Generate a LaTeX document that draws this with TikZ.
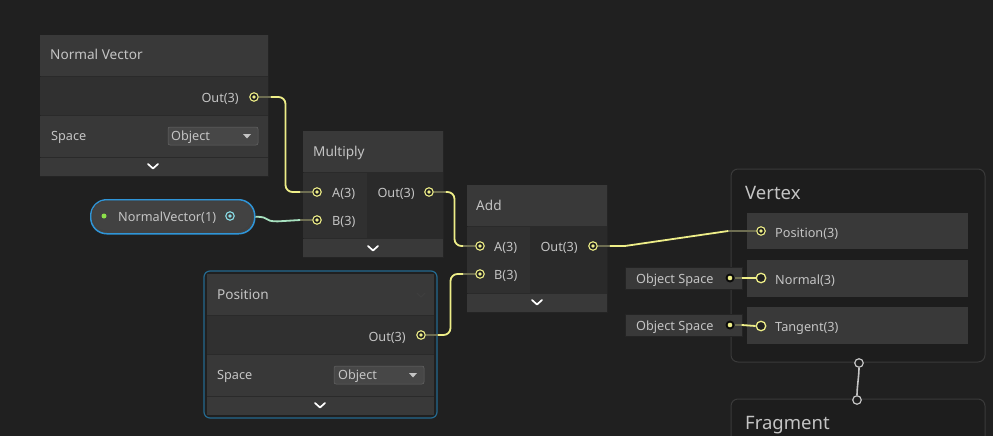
\documentclass[tikz,border=0pt]{standalone}
\usepackage{fontspec}
\setmainfont{Noto Sans}
\usetikzlibrary{calc}
\definecolor{cbg}{HTML}{202020}
\definecolor{ctitle}{HTML}{393939}
\definecolor{cin}{HTML}{303030}
\definecolor{cout}{HTML}{2A2A2A}
\definecolor{crow}{HTML}{383838}
\definecolor{cdrop}{HTML}{474747}
\definecolor{ctext}{HTML}{C4C4C4}
\definecolor{cyel}{HTML}{EEEE88}
\definecolor{cdim}{HTML}{6E6E52}
\definecolor{cblue}{HTML}{2F95D8}
\definecolor{cblue2}{HTML}{24698F}
\definecolor{cgreen}{HTML}{A8E2C0}
\definecolor{ccyan}{HTML}{8ADDE6}
\definecolor{cframe}{HTML}{3A3A3A}
\definecolor{cgrey}{HTML}{C4C4C4}
\definecolor{csep}{HTML}{242424}
\definecolor{cpill}{HTML}{424242}
\definecolor{cgdot}{HTML}{8CE04A}
\tikzset{
  blk/.style={anchor=north west, inner sep=0pt, outer sep=0pt, fill=cout, draw=csep, line width=0.8pt},
  lbl/.style={text=ctext, font=\fontsize{12.7}{14}\selectfont, inner sep=0pt, text height=9pt, text depth=0pt},
  ttl/.style={text=ctext, font=\fontsize{13.6}{15}\selectfont, inner sep=0pt, text height=9.7pt, text depth=0pt, anchor=west},
  big/.style={text=ctext, font=\fontsize{18.5}{20}\selectfont, inner sep=0pt, text height=13.2pt, text depth=0pt, anchor=west},
  port/.style={circle, draw=cyel, line width=1.1pt, fill=cbg, minimum size=8.5pt, inner sep=0pt,
    path picture={\fill[cyel] (path picture bounding box.center) circle (1.9pt);}},
  openport/.style={circle, draw=cyel, line width=1.3pt, fill=cbg, minimum size=9.5pt, inner sep=0pt},
  cport/.style={circle, draw=ccyan, line width=1.1pt, fill=cpill, minimum size=8.5pt, inner sep=0pt,
    path picture={\fill[ccyan] (path picture bounding box.center) circle (1.9pt);}},
  sdot/.style={circle, fill=black!70!cbg, minimum size=9pt, inner sep=0pt,
    path picture={\fill[cyel] (path picture bounding box.center) circle (2.3pt);}},
  vfport/.style={circle, draw=cgrey, line width=1.2pt, fill=cbg, minimum size=8.5pt, inner sep=0pt},
  wire/.style={draw=cyel, line width=1.8pt},
  wdim/.style={draw=cdim, line width=1.8pt},
  wgreen/.style={draw=cgreen, line width=1.8pt},
  dropbox/.style={fill=cdrop, rounded corners=2pt, draw=black!60, line width=0.5pt},
  chevron/.pic={\draw[white, line width=1.7pt, line cap=round, line join=round] (-5,-2) -- (0,2.5) -- (5,-2);},
  fchevron/.pic={\draw[black!55!cbg!80!white, line width=1pt, line cap=round] (-4,-1.8) -- (0,2) -- (4,-1.8);},
  droptri/.pic={\fill[ctext] (-4,-2) -- (4,-2) -- (0,2.5) -- cycle;}
}
\begin{document}
\begin{tikzpicture}[x=1pt,y=-1pt]
\fill[cbg] (0,0) rectangle (993,436);
\useasboundingbox (0,0) rectangle (993,436);
\clip (0,0) rectangle (993,436);

% ---------- Normal Vector node ----------
\node[blk, minimum width=228pt, minimum height=141pt] (nv) at (40,35) {};
\fill[ctitle] (40,35) rectangle (268,76);
\fill[cin] (40,77) rectangle (268,115);
\fill[crow] (40,116) rectangle (268,157);
\fill[ctitle] (40,158) rectangle (268,176);
\node[ttl] (nvt) at (50,55) {Normal Vector};
\node[lbl, anchor=east] (nvol) at (239,98) {Out(3)};
\node[lbl, anchor=west] (nvsp) at (51,136) {Space};
\draw[dropbox] (168,127) rectangle (258,145);
\node[lbl, anchor=west] (nvdd) at (171,136) {Object};
\pic at (247,136) {droptri};
\pic at (153,166) {chevron};

% ---------- Multiply node ----------
\node[blk, minimum width=140pt, minimum height=126pt] (mul) at (303,131) {};
\fill[ctitle] (303,131) rectangle (443,172);
\fill[cin] (303,173) rectangle (367,238);
\fill[ctitle] (303,239) rectangle (443,257);
\node[ttl] (mult) at (313,152) {Multiply};
\node[lbl, anchor=west] (mal) at (332,193) {A(3)};
\node[lbl, anchor=west] (mbl) at (332,221) {B(3)};
\node[lbl, anchor=east] (mol) at (415,193) {Out(3)};
\pic at (373,248) {chevron};

% ---------- Add node ----------
\node[blk, minimum width=140pt, minimum height=127pt] (add) at (467,185) {};
\fill[ctitle] (467,185) rectangle (607,226);
\fill[cin] (467,227) rectangle (530,293);
\fill[ctitle] (467,294) rectangle (607,312);
\node[ttl] (addt) at (476,206) {Add};
\node[lbl, anchor=west] (aal) at (494,247) {A(3)};
\node[lbl, anchor=west] (abl) at (494,275) {B(3)};
\node[lbl, anchor=east] (aol) at (578,247) {Out(3)};
\pic at (537,302) {chevron};

% ---------- Position node ----------
\draw[cblue2, line width=1.2pt, rounded corners=6pt] (204,271) rectangle (437,418);
\node[blk, minimum width=227pt, minimum height=141pt, draw=none] (pos) at (207,274) {};
\fill[ctitle] (207,274) rectangle (434,315);
\fill[cin] (207,316) rectangle (434,354);
\fill[crow] (207,355) rectangle (434,396);
\fill[ctitle] (207,397) rectangle (434,415);
\node[ttl] (post) at (217,295) {Position};
\pic at (421,295) {fchevron};
\node[lbl, anchor=east] (posol) at (406,337) {Out(3)};
\node[lbl, anchor=west] (possp) at (217,375) {Space};
\draw[dropbox] (334,366) rectangle (424,384);
\node[lbl, anchor=west] (posdd) at (338,375) {Object};
\pic at (413,375) {droptri};
\pic at (320,405) {chevron};

% ---------- NormalVector(1) property ----------
\node[draw=cblue, line width=1.5pt, fill=cpill, rounded corners=16pt, anchor=north west,
      minimum width=164pt, minimum height=34pt, inner sep=0pt] (pill) at (90,199) {};
\draw[black!75, line width=0.8pt, rounded corners=14pt] (92,201) rectangle (252,231);
\fill[cgdot] (104,216) circle (2.5pt);
\node[lbl, anchor=west] (pilll) at (118,217) {NormalVector(1)};
\node[cport] (pillp) at (230,216) {};

% ---------- Vertex / Fragment ----------
\draw[cframe, line width=1pt, fill=black!10!cbg, rounded corners=7pt] (731,169) rectangle (985,362);
\node[big] (vtx) at (745,193) {Vertex};
\node[anchor=north west, fill=ctitle, minimum width=221pt, minimum height=36pt, inner sep=0pt] (rpos) at (747,213) {};
\node[anchor=north west, fill=ctitle, minimum width=221pt, minimum height=37pt, inner sep=0pt] (rnor) at (747,260) {};
\node[anchor=north west, fill=ctitle, minimum width=221pt, minimum height=37pt, inner sep=0pt] (rtan) at (747,307) {};
\node[lbl, anchor=west] (rposl) at (775,233) {Position(3)};
\node[lbl, anchor=west] (rnorl) at (775,280) {Normal(3)};
\node[lbl, anchor=west] (rtanl) at (775,327) {Tangent(3)};
\draw[cframe, line width=1pt, fill=black!10!cbg, rounded corners=7pt] (731,399) rectangle (985,470);
\node[big] (frg) at (745,423) {Fragment};

% Object Space boxes
\node[anchor=north west, fill=ctitle, draw=csep, minimum width=117pt, minimum height=22pt, inner sep=0pt] (os1) at (625,267) {};
\node[anchor=north west, fill=ctitle, draw=csep, minimum width=117pt, minimum height=22pt, inner sep=0pt] (os2) at (625,314) {};
\node[lbl, anchor=west] (os1l) at (636,279) {Object Space};
\node[lbl, anchor=west] (os2l) at (636,326) {Object Space};
\node[sdot] (os1d) at (730,278) {};
\node[sdot] (os2d) at (730,325) {};

% ---------- ports ----------
\node[port] (nvout) at (254,97) {};
\node[port] (ma) at (317,192) {};
\node[port] (mb) at (317,220) {};
\node[port] (mout) at (429,192) {};
\node[port] (aa) at (480,246) {};
\node[port] (ab) at (480,274) {};
\node[port] (aout) at (593,246) {};
\node[port] (posout) at (421,335) {};
\node[port] (vpos) at (761,231) {};
\node[openport] (vnor) at (761,278) {};
\node[openport] (vtan) at (761,326) {};
\node[vfport] (vf1) at (859,363) {};
\node[vfport] (vf2) at (857,400) {};

% ---------- wires ----------
% Normal Vector -> Multiply A
\draw[wdim] (nvout.east) -- ++(12,0) coordinate (w1a);
\draw[wdim] (ma.west) -- ++(-12,0) coordinate (w1b);
\draw[wire, rounded corners=7pt] (w1a) -| ($(w1a)!0.5!(w1b)$) |- (w1b);
% NormalVector(1) -> Multiply B
\draw[wdim] (mb.west) -- ++(-12,0) coordinate (w2b);
\draw[wgreen] (pill.east) .. controls +(16,0) and +(-16,0) .. ($(pill.east)!0.5!(w2b)+(0,3)$) -- (w2b);
% Multiply Out -> Add A
\draw[wdim] (mout.east) -- ++(12,0) coordinate (w3a);
\draw[wdim] (aa.west) -- ++(-12,0) coordinate (w3b);
\draw[wire, rounded corners=7pt] (w3a) -| ($(w3a)!0.5!(w3b)$) |- (w3b);
% Position Out -> Add B
\draw[wdim] (posout.east) -- ++(12,0) coordinate (w4a);
\draw[wdim] (ab.west) -- ++(-12,0) coordinate (w4b);
\draw[wire, rounded corners=7pt] (w4a) -| ($(w4a)!0.5!(w4b)$) |- (w4b);
% Add Out -> Vertex Position
\draw[wdim] (aout.east) -- ++(12,0) coordinate (w5a);
\draw[wdim] (vpos.west) -- ++(-28,0) coordinate (w5b);
\draw[wire] (w5a) -- ++(15,0) -- (w5b);
% Object Space -> Normal / Tangent
\draw[wdim] (os1d.east) -- ++(7,0) coordinate (w6a);
\draw[wire] (w6a) -- (vnor.west);
\draw[wdim] (os2d.east) -- ++(7,0) coordinate (w7a);
\draw[wire] (w7a) -- (vtan.west);
% Vertex -> Fragment
\draw[cgrey, line width=1.6pt] (vf1.south) .. controls +(0,8) and +(0,-8) .. (vf2.north);
\end{tikzpicture}
\end{document}
